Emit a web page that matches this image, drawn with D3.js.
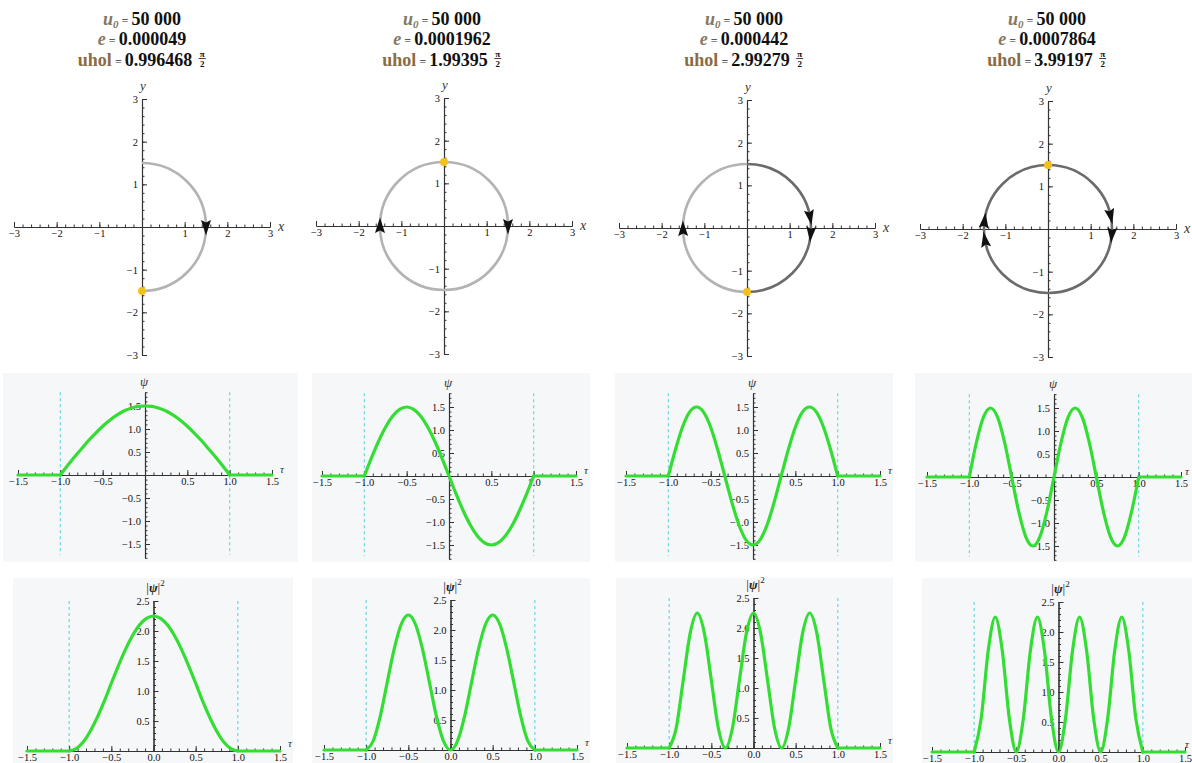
<!DOCTYPE html>
<meta charset="utf-8">
<style>
    body { margin: 0; background: #fff; }
    svg text { font-family: "Liberation Serif", "DejaVu Serif", serif; }
</style>
<svg width="1192" height="763"></svg>
<script src="https://d3js.org/d3.v7.min.js"></script>
<script>
// ---- data ----
var u0Values = ["50\u00a0000", "50\u00a0000", "50\u00a0000", "50\u00a0000"];
var eValues = ["0.000049", "0.0001962", "0.000442", "0.0007864"];
var uholValues = ["0.996468", "1.99395", "2.99279", "3.99197"];

// circle path: radius and how far (degrees, clockwise from the top) it goes
var radius = 1.5;
var sweepDeg = [180, 360, 540, 720];
// arrow heads, angle on the circle in degrees (0 = +x axis)
var arrowAngles = [[0], [0, 180], [10, -5, 181], [12, -5, 173, 190]];
// yellow end point
var dotX = [0, 0, 0, 0];
var dotY = [-1.5, 1.5, -1.5, 1.5];

var circleTicks = [-3, -2, -1, 1, 2, 3];
var circleTickLabels = ["\u22123", "\u22122", "\u22121", "1", "2", "3"];
var psiTicks = [-1.5, -1, -0.5, 0.5, 1, 1.5];
var psiTickLabels = ["\u22121.5", "\u22121.0", "\u22120.5", "0.5", "1.0", "1.5"];
var probXTicks = [-1.5, -1, -0.5, 0, 0.5, 1, 1.5];
var probXTickLabels = ["\u22121.5", "\u22121.0", "\u22120.5", "0.0", "0.5", "1.0", "1.5"];
var probYTicks = [0.5, 1, 1.5, 2, 2.5];
var probYTickLabels = ["0.5", "1.0", "1.5", "2.0", "2.5"];
var wallTau = [-1, 1];

var tau = [-1.5, -1, -0.9167, -0.8333, -0.75, -0.6667, -0.5833, -0.5, -0.4167, -0.3333, -0.25, -0.1667, -0.0833,
    0, 0.0833, 0.1667, 0.25, 0.3333, 0.4167, 0.5, 0.5833, 0.6667, 0.75, 0.8333, 0.9167, 1, 1.5];

var psi1 = [0, 0, 0.20, 0.39, 0.57, 0.75, 0.91, 1.06, 1.19, 1.30, 1.39, 1.45, 1.49, 1.50, 1.49, 1.45, 1.39, 1.30, 1.19, 1.06, 0.91, 0.75, 0.57, 0.39, 0.20, 0, 0];
var psi2 = [0, 0, 0.39, 0.75, 1.06, 1.30, 1.45, 1.50, 1.45, 1.30, 1.06, 0.75, 0.39, 0, -0.39, -0.75, -1.06, -1.30, -1.45, -1.50, -1.45, -1.30, -1.06, -0.75, -0.39, 0, 0];
var psi3 = [0, 0, 0.57, 1.06, 1.39, 1.50, 1.39, 1.06, 0.57, 0, -0.57, -1.06, -1.39, -1.50, -1.39, -1.06, -0.57, 0, 0.57, 1.06, 1.39, 1.50, 1.39, 1.06, 0.57, 0, 0];
var psi4 = [0, 0, 0.75, 1.30, 1.50, 1.30, 0.75, 0, -0.75, -1.30, -1.50, -1.30, -0.75, 0, 0.75, 1.30, 1.50, 1.30, 0.75, 0, -0.75, -1.30, -1.50, -1.30, -0.75, 0, 0];

var prob1 = [0, 0, 0.04, 0.15, 0.33, 0.56, 0.83, 1.13, 1.42, 1.69, 1.92, 2.10, 2.21, 2.25, 2.21, 2.10, 1.92, 1.69, 1.42, 1.13, 0.83, 0.56, 0.33, 0.15, 0.04, 0, 0];
var prob2 = [0, 0, 0.15, 0.56, 1.13, 1.69, 2.10, 2.25, 2.10, 1.69, 1.13, 0.56, 0.15, 0, 0.15, 0.56, 1.13, 1.69, 2.10, 2.25, 2.10, 1.69, 1.13, 0.56, 0.15, 0, 0];
var prob3 = [0, 0, 0.33, 1.13, 1.92, 2.25, 1.92, 1.13, 0.33, 0, 0.33, 1.13, 1.92, 2.25, 1.92, 1.13, 0.33, 0, 0.33, 1.13, 1.92, 2.25, 1.92, 1.13, 0.33, 0, 0];
var prob4 = [0, 0, 0.56, 1.69, 2.25, 1.69, 0.56, 0, 0.56, 1.69, 2.25, 1.69, 0.56, 0, 0.56, 1.69, 2.25, 1.69, 0.56, 0, 0.56, 1.69, 2.25, 1.69, 0.56, 0, 0];

var psiSeries = [psi1, psi2, psi3, psi4];
var probSeries = [prob1, prob2, prob3, prob4];

// ---- layout ----
var svg = d3.select("svg");
var headX = [142, 442, 744, 1047];
var headBase = [25, 45, 66];
var circleLeft = [14, 316, 619, 920], circleTop = [99, 98, 100, 101], circleSize = 256;
var psiLeft = [18, 322, 626, 927], psiZero = [475, 476, 476, 477], psiW = 254, psiUnit = 46;
var probLeft = [27, 324, 627, 932], probZero = [751, 750, 748, 752], probW = 253, probUnit = 60;
var bgPsi = [[3, 298], [312, 590], [615, 893], [915, 1192]];
var bgProb = [[13, 293], [312, 590], [616, 893], [922, 1192]];

var greyBrown = "#857862", brown = "#8b6b42";
var green = "#33dd33", cyan = "#6dd5e6";
var serif = "'Liberation Serif', 'DejaVu Serif', serif";

function steps(a, b, s) {
    return d3.range(Math.round(a / s), Math.round(b / s) + 1).map(function(k) { return +(k * s).toFixed(2); });
}

// draws a pair of crossing axes (Mathematica style: x ticks up, y ticks right)
function axes(g, x, y, o) {
    var xg = g.append("g").attr("transform", "translate(0," + y(0) + ")");
    xg.append("g").call(d3.axisBottom(x).tickValues(o.xMinor).tickSize(-2.5).tickSizeOuter(0).tickFormat(""));
    xg.append("g").call(d3.axisBottom(x).tickValues(o.xTicks).tickSize(-5).tickSizeOuter(0).tickPadding(3)
        .tickFormat(function(d, k) { return o.xLabels[k]; }));
    var yg = g.append("g").attr("transform", "translate(" + x(0) + ",0)");
    yg.append("g").call(d3.axisLeft(y).tickValues(o.yMinor).tickSize(-2.5).tickSizeOuter(0).tickFormat(""));
    yg.append("g").call(d3.axisLeft(y).tickValues(o.yTicks).tickSize(-5).tickSizeOuter(0).tickPadding(4)
        .tickFormat(function(d, k) { return o.yLabels[k]; }));
    g.selectAll("g").attr("font-family", serif).attr("font-size", 10.5).attr("color", "#333");
    g.selectAll(".tick text").attr("fill", "#111");
    g.selectAll(".domain").attr("stroke-width", 1.1);
}

// ---- headings ----
d3.range(4).forEach(function(i) {
    var lines = [
        [{t: "u", s: 18, it: 1, b: 1, f: greyBrown}, {t: "0", s: 11, it: 1, b: 1, f: greyBrown, dy: 3},
         {t: "\u00a0=\u00a0", s: 12, f: "#333", dy: -3}, {t: u0Values[i], s: 18, b: 1, f: "#111"}],
        [{t: "e", s: 18, it: 1, b: 1, f: greyBrown},
         {t: "\u00a0=\u00a0", s: 12, f: "#333"}, {t: eValues[i], s: 18, b: 1, f: "#111"}],
        [{t: "uhol", s: 18, b: 1, f: brown},
         {t: "\u00a0=\u00a0", s: 12, f: "#333"}, {t: uholValues[i], s: 18, b: 1, f: "#111"}]
    ];
    lines.forEach(function(parts, li) {
        var g = svg.append("g");
        var t = g.append("text").attr("x", 0).attr("y", 0);
        parts.forEach(function(p) {
            t.append("tspan").text(p.t)
                .attr("font-size", p.s)
                .attr("font-style", p.it ? "italic" : "normal")
                .attr("font-weight", p.b ? "bold" : "normal")
                .attr("fill", p.f)
                .attr("dy", p.dy || 0);
        });
        var w = t.node().getComputedTextLength();
        var extra = 0;
        if (li === 2) {
            // small pi/2 fraction after the number
            var fx = w + 10;
            g.append("text").attr("x", fx).attr("y", -9).attr("text-anchor", "middle")
                .attr("font-size", 9).attr("font-weight", "bold").attr("fill", "#111").text("\u03c0");
            g.append("line").attr("x1", fx - 3.5).attr("x2", fx + 3.5).attr("y1", -7.5).attr("y2", -7.5)
                .attr("stroke", "#111").attr("stroke-width", 0.8);
            g.append("text").attr("x", fx).attr("y", 1).attr("text-anchor", "middle")
                .attr("font-size", 9).attr("font-weight", "bold").attr("fill", "#111").text("2");
            extra = 14;
        }
        g.attr("transform", "translate(" + (headX[i] - (w + extra) / 2) + "," + headBase[li] + ")");
    });
});

// ---- circle panels ----
d3.range(4).forEach(function(i) {
    var x = d3.scaleLinear().domain([-3, 3]).range([circleLeft[i], circleLeft[i] + circleSize]);
    var y = d3.scaleLinear().domain([-3, 3]).range([circleTop[i] + circleSize, circleTop[i]]);
    var g = svg.append("g");
    axes(g, x, y, {
        xTicks: circleTicks, xLabels: circleTickLabels, xMinor: steps(-3, 3, 0.2),
        yTicks: circleTicks, yLabels: circleTickLabels, yMinor: steps(-3, 3, 0.2)
    });
    g.append("text").attr("x", x(3) + 11).attr("y", y(0) + 4).attr("text-anchor", "middle")
        .attr("font-size", 14).attr("font-style", "italic").attr("fill", "#333").text("x");
    g.append("text").attr("x", x(0) + 1).attr("y", y(3) - 9).attr("text-anchor", "middle")
        .attr("font-size", 13).attr("font-style", "italic").attr("fill", "#333").text("y");

    var cx = x(0), cy = y(0), r = x(radius) - x(0);
    // number of passes over the right and the left half of the circle
    var halves = [
        {a0: -Math.PI / 2, a1: Math.PI / 2, n: Math.ceil(sweepDeg[i] / 360)},
        {a0: Math.PI / 2, a1: 3 * Math.PI / 2, n: Math.floor(sweepDeg[i] / 360)}
    ];
    halves.forEach(function(h) {
        if (!h.n) return;
        var p = d3.path();
        p.arc(cx, cy, r, h.a0, h.a1, false);
        g.append("path").attr("d", p.toString()).attr("fill", "none")
            .attr("stroke", h.n > 1 ? "#6b6b6b" : "#b3b3b3").attr("stroke-width", 2.6);
    });
    arrowAngles[i].forEach(function(a) {
        var th = a * Math.PI / 180;
        var px = cx + r * Math.cos(th), py = cy - r * Math.sin(th);
        var rot = Math.atan2(Math.cos(th), Math.sin(th)) * 180 / Math.PI;
        g.append("path").attr("d", "M8.5,0L-7,-5L-4.5,0L-7,5Z").attr("fill", "#111")
            .attr("transform", "translate(" + px + "," + py + ") rotate(" + rot + ")");
    });
    g.append("circle").attr("cx", x(dotX[i])).attr("cy", y(dotY[i])).attr("r", 4).attr("fill", "#f2c21b");
});

// ---- wave function helpers ----
function drawWave(g, x, y, vals) {
    var pts = tau.map(function(t, k) { return [t, vals[k]]; });
    var line = d3.line().x(function(d) { return x(d[0]); }).y(function(d) { return y(d[1]); });
    var n = pts.length;
    [pts.slice(0, 2), pts.slice(n - 2)].forEach(function(seg) {
        g.append("path").attr("d", line.curve(d3.curveLinear)(seg)).attr("fill", "none")
            .attr("stroke", green).attr("stroke-width", 3.2).attr("stroke-linecap", "round");
    });
    g.append("path").attr("d", line.curve(d3.curveMonotoneX)(pts.slice(1, n - 1))).attr("fill", "none")
        .attr("stroke", green).attr("stroke-width", 3.2).attr("stroke-linejoin", "round").attr("stroke-linecap", "round");
}

// ---- psi panels ----
d3.range(4).forEach(function(i) {
    var x = d3.scaleLinear().domain([-1.5, 1.5]).range([psiLeft[i], psiLeft[i] + psiW]);
    var y = d3.scaleLinear().domain([-1.8, 1.8]).range([psiZero[i] + 1.8 * psiUnit, psiZero[i] - 1.8 * psiUnit]);
    var g = svg.append("g");
    g.append("rect").attr("x", bgPsi[i][0]).attr("y", 373).attr("width", bgPsi[i][1] - bgPsi[i][0]).attr("height", 189)
        .attr("fill", "#f6f7f9");
    wallTau.forEach(function(t) {
        g.append("line").attr("x1", x(t)).attr("x2", x(t)).attr("y1", y(1.8)).attr("y2", y(-1.74))
            .attr("stroke", cyan).attr("stroke-width", 1.2).attr("stroke-dasharray", "3,3");
    });
    axes(g, x, y, {
        xTicks: psiTicks, xLabels: psiTickLabels, xMinor: steps(-1.5, 1.5, 0.1),
        yTicks: psiTicks, yLabels: psiTickLabels, yMinor: steps(-1.8, 1.8, 0.1)
    });
    g.append("text").attr("x", x(0) - 1).attr("y", y(1.8) - 6).attr("text-anchor", "middle")
        .attr("font-size", 13).attr("font-style", "italic").attr("fill", "#333").text("\u03c8");
    g.append("text").attr("x", Math.min(x(1.5) + 10, 1187)).attr("y", y(0) - 2).attr("text-anchor", "middle")
        .attr("font-size", 11).attr("font-style", "italic").attr("fill", "#333").text("\u03c4");
    drawWave(g, x, y, psiSeries[i]);
});

// ---- |psi|^2 panels ----
d3.range(4).forEach(function(i) {
    var x = d3.scaleLinear().domain([-1.5, 1.5]).range([probLeft[i], probLeft[i] + probW]);
    var y = d3.scaleLinear().domain([0, 2.5]).range([probZero[i], probZero[i] - 2.5 * probUnit]);
    var g = svg.append("g");
    g.append("rect").attr("x", bgProb[i][0]).attr("y", 578).attr("width", bgProb[i][1] - bgProb[i][0]).attr("height", 185)
        .attr("fill", "#f6f7f9");
    wallTau.forEach(function(t) {
        g.append("line").attr("x1", x(t)).attr("x2", x(t)).attr("y1", y(2.5)).attr("y2", y(0))
            .attr("stroke", cyan).attr("stroke-width", 1.2).attr("stroke-dasharray", "3,3");
    });
    axes(g, x, y, {
        xTicks: probXTicks, xLabels: probXTickLabels, xMinor: steps(-1.5, 1.5, 0.1),
        yTicks: probYTicks, yLabels: probYTickLabels, yMinor: steps(0.1, 2.5, 0.1)
    });
    var lab = g.append("text").attr("x", x(0) + 2).attr("y", y(2.5) - 9).attr("text-anchor", "middle")
        .attr("font-size", 13).attr("fill", "#222");
    lab.append("tspan").text("|");
    lab.append("tspan").attr("font-style", "italic").attr("font-weight", "bold").text("\u03c8");
    lab.append("tspan").text("|");
    lab.append("tspan").attr("font-size", 9).attr("dy", -6).text("2");
    g.append("text").attr("x", Math.min(x(1.5) + 10, 1187)).attr("y", y(0) - 4).attr("text-anchor", "middle")
        .attr("font-size", 11).attr("font-style", "italic").attr("fill", "#333").text("\u03c4");
    drawWave(g, x, y, probSeries[i]);
});
</script>
